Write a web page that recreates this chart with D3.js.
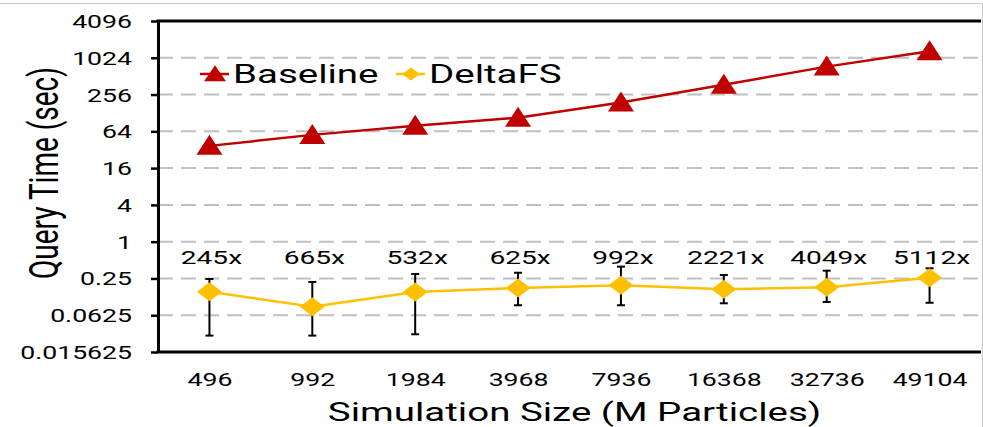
<!DOCTYPE html>
<html>

<head>
    <script type="text/javascript" src="https://cdnjs.cloudflare.com/ajax/libs/d3/7.8.5/d3.min.js"></script>
    <style>
        body {
            margin: 0;
            background: white;
        }

        svg text {
            font-family: Roboto, sans-serif;
            fill: black;
        }
    </style>
</head>

<body>
    <script>
        var sizes = ['496', '992', '1984', '3968', '7936', '16368', '32736', '49104'];
        var baseline = [37, 56, 79, 107, 189, 369, 734, 1306];
        var deltafs = [0.152, 0.086, 0.150, 0.174, 0.193, 0.166, 0.180, 0.256];
        var deltaLo = [0.029, 0.029, 0.0305, 0.091, 0.091, 0.098, 0.103, 0.100];
        var deltaHi = [0.245, 0.219, 0.296, 0.31, 0.39, 0.285, 0.335, 0.366];
        var speedups = ['245x', '665x', '532x', '625x', '992x', '2221x', '4049x', '5112x'];
        var yTicks = [0.015625, 0.0625, 0.25, 1, 4, 16, 64, 256, 1024, 4096];

        var W = 983, H = 427;
        var pL = 158, pR = 981, pT = 21, pB = 352;
        var SX = 1.48; // the text is drawn wide
        var RED = '#C00000', GOLD = '#FFC000';

        var svg = d3.select('body').append('svg')
            .attr('width', W)
            .attr('height', H);

        // light frame of the figure
        svg.append('path')
            .attr('d', 'M0,3.5H982.5V' + H)
            .attr('fill', 'none')
            .attr('stroke', '#c8c8c8')
            .attr('stroke-width', 1);

        var x = d3.scalePoint()
            .domain(sizes)
            .range([pL, pR])
            .padding(0.5);

        var y = d3.scaleLog()
            .base(2)
            .domain([0.015625, 4096])
            .range([pB, pT]);

        // grid lines
        svg.append('g')
            .selectAll('line')
            .data(yTicks.slice(1, -1))
            .enter()
            .append('line')
            .attr('x1', pL)
            .attr('x2', pR)
            .attr('y1', function(d) { return y(d); })
            .attr('y2', function(d) { return y(d); })
            .attr('stroke', '#c0c0c0')
            .attr('stroke-width', 2)
            .attr('stroke-dasharray', '15,8');

        // y axis
        var yAxis = svg.append('g')
            .attr('transform', 'translate(' + pL + ',0)')
            .call(d3.axisLeft(y)
                .tickValues(yTicks)
                .tickFormat(function(d) { return String(d); })
                .tickSize(7)
                .tickSizeOuter(0));
        yAxis.select('.domain').attr('stroke', 'black').attr('stroke-width', 3);
        yAxis.selectAll('.tick line').attr('stroke', 'black').attr('stroke-width', 2.5);
        yAxis.selectAll('.tick text')
            .attr('x', -26 / SX)
            .attr('dy', '0.36em')
            .attr('transform', 'scale(' + SX + ',1)')
            .style('font-size', '18px')
            .style('font-family', 'Roboto, sans-serif')
            .attr('fill', 'black');

        // top border and bottom axis line
        svg.append('line')
            .attr('x1', pL - 1.5).attr('x2', pR)
            .attr('y1', pT).attr('y2', pT)
            .attr('stroke', 'black').attr('stroke-width', 3);

        var xAxis = svg.append('g')
            .attr('transform', 'translate(0,' + pB + ')')
            .call(d3.axisBottom(x).tickSize(0).tickSizeOuter(0));
        xAxis.select('.domain').remove();
        xAxis.selectAll('.tick text')
            .attr('y', 34)
            .attr('dy', 0)
            .attr('transform', 'scale(' + SX + ',1)')
            .style('font-size', '18px')
            .style('font-family', 'Roboto, sans-serif')
            .attr('fill', 'black');
        svg.append('line')
            .attr('x1', pL - 1.5).attr('x2', pR)
            .attr('y1', pB).attr('y2', pB)
            .attr('stroke', 'black').attr('stroke-width', 3);

        // axis titles
        svg.append('text')
            .attr('transform', 'translate(' + ((pL + pR) / 2 + 5) + ',421) scale(' + SX + ',1)')
            .attr('text-anchor', 'middle')
            .style('font-size', '26px')
            .text('Simulation Size (M Particles)');

        svg.append('text')
            .attr('transform', 'translate(58,173) scale(1.42,1) rotate(-90)')
            .attr('text-anchor', 'middle')
            .style('font-size', '28px')
            .text('Query Time (sec)');

        function triangle(w, h) {
            return 'M0,' + (-h * 0.55) + 'L' + (w / 2) + ',' + (h * 0.45) + 'L' + (-w / 2) + ',' + (h * 0.45) + 'Z';
        }

        function diamond(w, h) {
            return 'M0,' + (-h / 2) + 'L' + (w / 2) + ',0L0,' + (h / 2) + 'L' + (-w / 2) + ',0Z';
        }

        var line = d3.line()
            .x(function(d, i) { return x(sizes[i]); })
            .y(function(d) { return y(d); });

        // baseline series
        svg.append('path')
            .datum(baseline)
            .attr('d', line)
            .attr('fill', 'none')
            .attr('stroke', RED)
            .attr('stroke-width', 2.5);

        svg.append('g')
            .selectAll('path')
            .data(baseline)
            .enter()
            .append('path')
            .attr('transform', function(d, i) { return 'translate(' + x(sizes[i]) + ',' + y(d) + ')'; })
            .attr('d', triangle(26, 20))
            .attr('fill', RED);

        // deltafs series with error bars
        svg.append('path')
            .datum(deltafs)
            .attr('d', line)
            .attr('fill', 'none')
            .attr('stroke', GOLD)
            .attr('stroke-width', 2.5);

        var err = svg.append('g')
            .selectAll('g')
            .data(deltafs)
            .enter()
            .append('g')
            .attr('stroke', 'black')
            .attr('stroke-width', 2);

        err.append('line')
            .attr('x1', function(d, i) { return x(sizes[i]); })
            .attr('x2', function(d, i) { return x(sizes[i]); })
            .attr('y1', function(d, i) { return y(deltaLo[i]); })
            .attr('y2', function(d, i) { return y(deltaHi[i]); });
        err.append('line')
            .attr('x1', function(d, i) { return x(sizes[i]) - 4; })
            .attr('x2', function(d, i) { return x(sizes[i]) + 4; })
            .attr('y1', function(d, i) { return y(deltaLo[i]); })
            .attr('y2', function(d, i) { return y(deltaLo[i]); });
        err.append('line')
            .attr('x1', function(d, i) { return x(sizes[i]) - 4; })
            .attr('x2', function(d, i) { return x(sizes[i]) + 4; })
            .attr('y1', function(d, i) { return y(deltaHi[i]); })
            .attr('y2', function(d, i) { return y(deltaHi[i]); });

        svg.append('g')
            .selectAll('path')
            .data(deltafs)
            .enter()
            .append('path')
            .attr('transform', function(d, i) { return 'translate(' + x(sizes[i]) + ',' + y(d) + ')'; })
            .attr('d', diamond(25, 19))
            .attr('fill', GOLD);

        // speedup labels
        svg.append('g')
            .selectAll('text')
            .data(speedups)
            .enter()
            .append('text')
            .attr('transform', function(d, i) { return 'translate(' + (x(sizes[i]) + 2) + ',' + (y(1) + 22) + ') scale(' + SX + ',1)'; })
            .attr('text-anchor', 'middle')
            .style('font-size', '19px')
            .text(function(d) { return d; });

        // legend
        var legend = svg.append('g');
        var items = [
            { name: 'Baseline', color: RED, x0: 200, shape: triangle(22, 16) },
            { name: 'DeltaFS', color: GOLD, x0: 396, shape: diamond(18, 13) }
        ];
        items.forEach(function(it) {
            legend.append('line')
                .attr('x1', it.x0).attr('x2', it.x0 + 29)
                .attr('y1', 74).attr('y2', 74)
                .attr('stroke', it.color).attr('stroke-width', 2.5);
            legend.append('path')
                .attr('transform', 'translate(' + (it.x0 + 15) + ',74)')
                .attr('d', it.shape)
                .attr('fill', it.color);
            legend.append('text')
                .attr('transform', 'translate(' + (it.x0 + 33) + ',83) scale(' + SX + ',1)')
                .style('font-size', '26px')
                .text(it.name);
        });
    </script>
</body>

</html>
